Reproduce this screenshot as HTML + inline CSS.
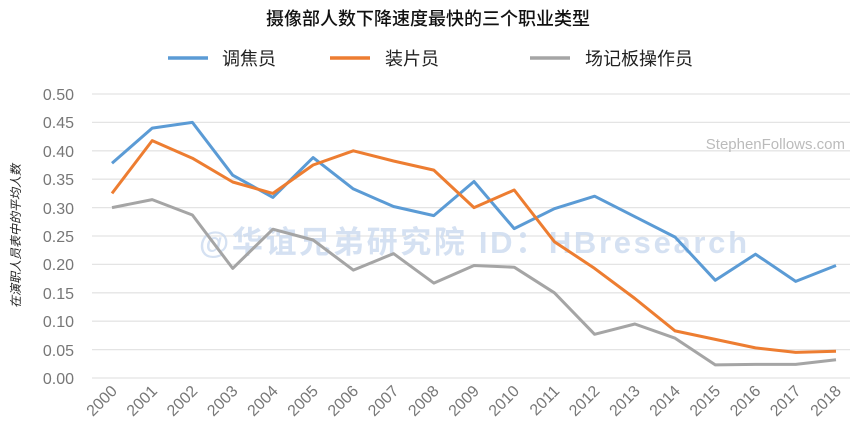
<!DOCTYPE html><html><head><meta charset="utf-8"><style>body{margin:0;background:#fff}svg{display:block}</style></head><body>
<svg width="857" height="443" xmlns="http://www.w3.org/2000/svg" font-family="Liberation Sans, Noto Sans CJK SC, sans-serif">
<text x="428" y="25" text-anchor="middle" font-size="18" font-weight="500" fill="#111">摄像部人数下降速度最快的三个职业类型</text>
<line x1="168" y1="58" x2="208" y2="58" stroke="#5b9bd5" stroke-width="3.5"/><text x="222" y="65" font-size="18" fill="#222">调焦员</text>
<line x1="330" y1="58" x2="370" y2="58" stroke="#ed7d31" stroke-width="3.5"/><text x="385" y="65" font-size="18" fill="#222">装片员</text>
<line x1="530" y1="58" x2="570" y2="58" stroke="#a5a5a5" stroke-width="3.5"/><text x="585" y="65" font-size="18" fill="#222">场记板操作员</text>
<g stroke="#e4e4e4" stroke-width="1.3">
<line x1="92" x2="850" y1="94" y2="94"/><line x1="92" x2="850" y1="122.4" y2="122.4"/><line x1="92" x2="850" y1="150.8" y2="150.8"/><line x1="92" x2="850" y1="179.2" y2="179.2"/><line x1="92" x2="850" y1="207.6" y2="207.6"/><line x1="92" x2="850" y1="236" y2="236"/><line x1="92" x2="850" y1="264.4" y2="264.4"/><line x1="92" x2="850" y1="292.8" y2="292.8"/><line x1="92" x2="850" y1="321.2" y2="321.2"/><line x1="92" x2="850" y1="349.6" y2="349.6"/><line x1="92" x2="850" y1="378" y2="378"/></g>
<g font-size="16" fill="#777" text-anchor="end">
<text x="74" y="100">0.50</text><text x="74" y="128">0.45</text><text x="74" y="157">0.40</text><text x="74" y="185">0.35</text><text x="74" y="214">0.30</text><text x="74" y="242">0.25</text><text x="74" y="270">0.20</text><text x="74" y="299">0.15</text><text x="74" y="327">0.10</text><text x="74" y="356">0.05</text><text x="74" y="384">0.00</text></g>
<text transform="translate(20,236) rotate(-90)" text-anchor="middle" font-size="12" font-style="italic" fill="#222">在演职人员表中的平均人数</text>
<text x="845" y="149" text-anchor="end" font-size="15" fill="#bbb">StephenFollows.com</text>
<text x="473" y="253" text-anchor="middle" font-size="31" font-weight="bold" fill="#c8d8ee" opacity="0.75" textLength="548">@华谊兄弟研究院 ID：HBresearch</text>
<g font-size="16" fill="#777" text-anchor="end">
<text transform="translate(118,392) rotate(-45)">2000</text>
<text transform="translate(158.2,392) rotate(-45)">2001</text>
<text transform="translate(198.4,392) rotate(-45)">2002</text>
<text transform="translate(238.7,392) rotate(-45)">2003</text>
<text transform="translate(278.9,392) rotate(-45)">2004</text>
<text transform="translate(319.1,392) rotate(-45)">2005</text>
<text transform="translate(359.3,392) rotate(-45)">2006</text>
<text transform="translate(399.5,392) rotate(-45)">2007</text>
<text transform="translate(439.8,392) rotate(-45)">2008</text>
<text transform="translate(480,392) rotate(-45)">2009</text>
<text transform="translate(520.2,392) rotate(-45)">2010</text>
<text transform="translate(560.4,392) rotate(-45)">2011</text>
<text transform="translate(600.6,392) rotate(-45)">2012</text>
<text transform="translate(640.9,392) rotate(-45)">2013</text>
<text transform="translate(681.1,392) rotate(-45)">2014</text>
<text transform="translate(721.3,392) rotate(-45)">2015</text>
<text transform="translate(761.5,392) rotate(-45)">2016</text>
<text transform="translate(801.7,392) rotate(-45)">2017</text>
<text transform="translate(842,392) rotate(-45)">2018</text>
</g>
<polyline fill="none" stroke="#5b9bd5" stroke-width="3" stroke-linejoin="round" id="b"/>
<polyline fill="none" stroke="#ed7d31" stroke-width="3" stroke-linejoin="round" id="o"/>
<polyline fill="none" stroke="#a5a5a5" stroke-width="3" stroke-linejoin="round" id="g"/>
<script>
var B=[.378,.44,.45,.357,.318,.388,.333,.302,.286,.346,.263,.298,.32,.284,.248,.172,.218,.17,.198];
var O=[.325,.418,.387,.345,.325,.375,.4,.382,.366,.3,.331,.24,.193,.14,.083,.068,.053,.045,.047];
var G=[.3,.314,.287,.193,.262,.243,.19,.219,.167,.198,.195,.15,.077,.095,.07,.023,.024,.024,.032];
function X(i){return 112+i*40.22}function Y(v){return 378-v*568}
function p(a){return a.map(function(v,i){return X(i).toFixed(1)+","+Y(v).toFixed(1)}).join(" ")}
document.getElementById("b").setAttribute("points",p(B));
document.getElementById("o").setAttribute("points",p(O));
document.getElementById("g").setAttribute("points",p(G));
</script>
</svg></body></html>
